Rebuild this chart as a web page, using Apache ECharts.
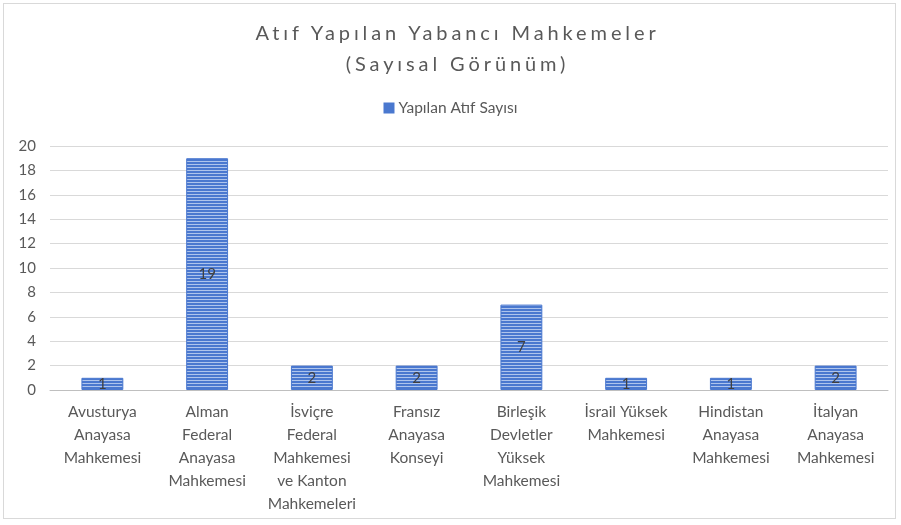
<!DOCTYPE html>
<html>
<head>
<meta charset="utf-8">
<script src="https://cdn.jsdelivr.net/npm/echarts@6/dist/echarts.min.js"></script>
<style>
  html, body { margin: 0; padding: 0; background: #fff; }
  #wrap { position: relative; width: 901px; height: 525px; }
  #frame { position: absolute; left: 3px; top: 3px; width: 893px; height: 516px; border: 1px solid #d9d9d9; box-sizing: border-box; }
  #chart { position: absolute; left: 0; top: 0; width: 901px; height: 525px; }
  #title { position: absolute; left: 7px; top: 17px; width: 901px; text-align: center;
    font-family: Lato, "Noto Sans", sans-serif; font-size: 20px; line-height: 31px;
    letter-spacing: 3.9px; color: #595959; pointer-events: none; }
</style>
</head>
<body>
<div id="wrap">
  <div id="frame"></div>
  <div id="chart"></div>
  <div id="title">Atıf Yapılan Yabancı Mahkemeler<br>(Sayısal Görünüm)</div>
</div>
<script>
var categories = [
  'Avusturya\nAnayasa\nMahkemesi',
  'Alman\nFederal\nAnayasa\nMahkemesi',
  'İsviçre\nFederal\nMahkemesi\nve Kanton\nMahkemeleri',
  'Fransız\nAnayasa\nKonseyi',
  'Birleşik\nDevletler\nYüksek\nMahkemesi',
  'İsrail Yüksek\nMahkemesi',
  'Hindistan\nAnayasa\nMahkemesi',
  'İtalyan\nAnayasa\nMahkemesi'
];
var seriesName = 'Yapılan Atıf Sayısı';
var values = [1, 19, 2, 2, 7, 1, 1, 2];

// striped fill like the original
function stripes(){
  var c = document.createElement('canvas');
  c.width = 4; c.height = 3;
  var ctx = c.getContext('2d');
  ctx.fillStyle = '#4a78cf';
  ctx.fillRect(0, 0, 4, 3);
  ctx.fillStyle = '#aec4ec';
  ctx.fillRect(0, 2, 4, 1);
  return c;
}
var fill = { image: stripes(), repeat: 'repeat' };

var chart = echarts.init(document.getElementById('chart'));
var font = 'Lato, "Noto Sans", sans-serif';
chart.setOption({
  textStyle: { fontFamily: font },
  legend: {
    top: 95,
    left: 'center',
    itemWidth: 9,
    itemHeight: 9,
    itemGap: 10,
    icon: 'rect',
    textStyle: { color: '#595959', fontSize: 15.5, fontFamily: font },
    data: [{ name: seriesName, itemStyle: { color: '#4a78cf' } }]
  },
  grid: { left: 50, right: 13, top: 146, bottom: 135 },
  xAxis: {
    type: 'category',
    data: categories,
    axisTick: { show: false },
    axisLine: { lineStyle: { color: '#bfbfbf', width: 1 } },
    axisLabel: {
      color: '#595959', fontSize: 15.5, lineHeight: 23, margin: 10,
      interval: 0, fontFamily: font
    }
  },
  yAxis: {
    type: 'value',
    min: 0, max: 20, interval: 2,
    axisLine: { show: false },
    axisTick: { show: false },
    axisLabel: { color: '#595959', fontSize: 15, margin: 14, fontFamily: font },
    splitLine: { lineStyle: { color: '#d9d9d9' } }
  },
  series: [{
    name: seriesName,
    type: 'bar',
    data: values,
    barWidth: '40%',
    itemStyle: { color: fill, borderColor: '#4a78cf', borderWidth: 1 },
    label: {
      show: true, position: 'inside', color: '#404040',
      fontSize: 15, fontFamily: font
    }
  }]
});
</script>
</body>
</html>
